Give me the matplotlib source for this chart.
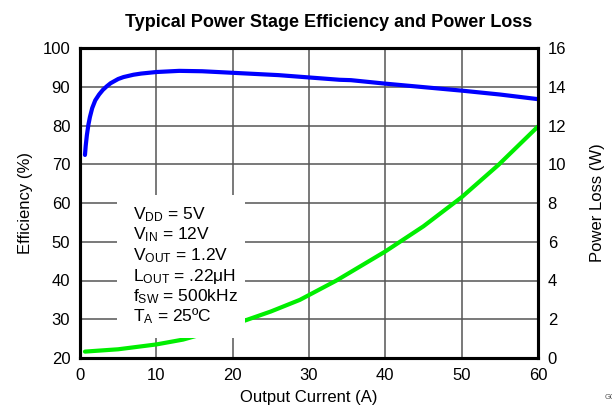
import matplotlib
matplotlib.use('Agg')
import matplotlib.pyplot as plt
from matplotlib.patches import Rectangle
from matplotlib.ticker import MultipleLocator

plt.rcParams['font.family'] = ['Liberation Sans', 'DejaVu Sans']
plt.rcParams['mathtext.fontset'] = 'custom'
plt.rcParams['mathtext.rm'] = 'Liberation Sans'
plt.rcParams['mathtext.it'] = 'Liberation Sans'

# efficiency curve (left axis)
eff_current = [0.65, 0.75, 0.9, 1.1, 1.3, 1.6, 2, 2.5, 3, 3.5, 4, 5, 5.7, 7, 8, 10, 13, 16, 20, 26, 30, 34,
               35.5, 40, 45, 50, 55, 60]
efficiency = [72.4, 74.8, 77.5, 80.2, 82.2, 84.5, 86.5, 88.0, 89.2, 90.1, 90.9, 92.0, 92.5, 93.1, 93.4, 93.8,
              94.1, 94.0, 93.6, 93.0, 92.4, 91.8, 91.7, 90.8, 89.9, 89.0, 88.0, 86.8]

# power loss curve (right axis)
loss_current = [0.65, 5, 10, 13.5, 18, 21.8, 25, 28.8, 30, 33.6, 40, 45, 50, 54.8, 60]
power_loss = [0.33, 0.45, 0.7, 0.95, 1.45, 1.96, 2.4, 3.0, 3.25, 4.0, 5.5, 6.8, 8.3, 9.96, 11.95]

conditions = [r'V$_{\mathrm{DD}}$ = 5V', r'V$_{\mathrm{IN}}$ = 12V', r'V$_{\mathrm{OUT}}$ = 1.2V',
              r'L$_{\mathrm{OUT}}$ = .22μH', r'f$_{\mathrm{SW}}$ = 500kHz', r'T$_{\mathrm{A}}$ = 25ºC']

fig = plt.figure(figsize=(6.12, 4.07), dpi=100)
ax = fig.add_axes([80 / 612, 49 / 407, 458 / 612, 310 / 407])
ax2 = ax.twinx()

ax.plot(eff_current, efficiency, color='#0000FF', lw=3, solid_capstyle='round', zorder=3)
ax2.plot(loss_current, power_loss, color='#00EE00', lw=3, solid_capstyle='round', zorder=2)

ax.set_xlim(0, 60)
ax.set_ylim(20, 100)
ax2.set_ylim(0, 16)
ax.xaxis.set_major_locator(MultipleLocator(10))
ax.yaxis.set_major_locator(MultipleLocator(10))
ax2.yaxis.set_major_locator(MultipleLocator(2))

ax.grid(True, color='#555555', lw=1.1)
ax.set_axisbelow(True)
ax.tick_params(length=0, labelsize=12, pad=7)
ax2.tick_params(length=0, labelsize=12, pad=7)
for a in (ax, ax2):
    for s in a.spines.values():
        s.set_linewidth(2.2)
        s.set_color('black')

ax.set_xlabel('Output Current (A)', fontsize=12, labelpad=5)
ax.set_ylabel('Efficiency (%)', fontsize=12, labelpad=7)
ax2.set_ylabel('Power Loss (W)', fontsize=12, labelpad=17)

# white box with operating conditions
ax2.add_patch(Rectangle((4.85, 1.03), 16.75, 7.4, facecolor='white', edgecolor='none', zorder=4))
for i, line in enumerate(conditions):
    ax2.text(6.9, 7.17 - i * 1.06, line, fontsize=12.5, va='baseline', ha='left', zorder=5)

fig.text(329 / 612, 380 / 407, 'Typical Power Stage Efficiency and Power Loss',
         fontsize=13, fontweight='bold', ha='center', va='baseline')
fig.text(605 / 612, 8 / 407, 'G001', fontsize=5.5, color='#555555', ha='left', va='baseline')

plt.savefig('out.png', dpi=100)
